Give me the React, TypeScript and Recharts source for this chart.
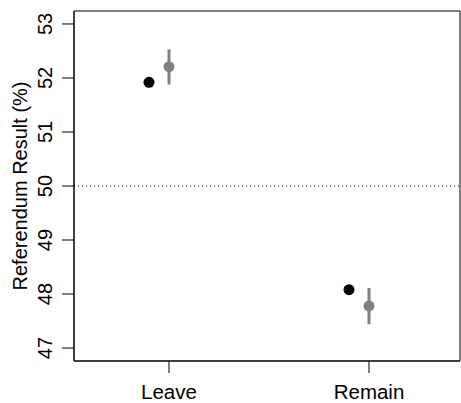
import React from 'react';
import {
  ComposedChart,
  Scatter,
  XAxis,
  YAxis,
  ErrorBar,
  ReferenceLine,
  ReferenceArea,
} from 'recharts';

const categories = ['Leave', 'Remain'];
const actual = [51.92, 48.08];
const predicted = [52.21, 47.78];
const predLow = [51.88, 47.44];
const predHigh = [52.53, 48.11];
const yTicks = [47, 48, 49, 50, 51, 52, 53];

const X_DOMAIN: [number, number] = [0.525, 2.455];
const Y_DOMAIN: [number, number] = [46.76, 53.24];
const ACTUAL_SHIFT = -0.1;
const GREY = '#808080';
const FONT = '"Liberation Sans", Arial, Helvetica, sans-serif';

const actualData = categories.map((c, i) => ({ x: i + 1 + ACTUAL_SHIFT, y: actual[i] }));
const predictedData = categories.map((c, i) => ({
  x: i + 1,
  y: predicted[i],
  err: [predicted[i] - predLow[i], predHigh[i] - predicted[i]],
}));

const YTick = (props: any) => {
  const { x, y, payload } = props;
  const tx = x - 8;
  return (
    <text
      x={tx}
      y={y}
      transform={`rotate(-90, ${tx}, ${y})`}
      textAnchor="middle"
      fontSize={20}
      fontFamily={FONT}
      fill="#000"
    >
      {payload.value}
    </text>
  );
};

const XTick = (props: any) => {
  const { x, y, payload } = props;
  return (
    <text x={x} y={y + 23.5} textAnchor="middle" fontSize={20.5} fontFamily={FONT} fill="#000">
      {categories[payload.value - 1]}
    </text>
  );
};

const YTitle = (props: any) => {
  const { viewBox } = props;
  const tx = viewBox.x + 27;
  const ty = viewBox.y + viewBox.height / 2;
  return (
    <text
      x={tx}
      y={ty}
      transform={`rotate(-90, ${tx}, ${ty})`}
      textAnchor="middle"
      fontSize={20}
      fontFamily={FONT}
      fill="#000"
    >
      Referendum Result (%)
    </text>
  );
};

export default function App() {
  return (
    <div style={{ position: 'absolute', left: 0, top: 0, width: 461, height: 403, background: '#fff' }}>
      <ComposedChart width={461} height={403} margin={{ top: 11, right: 1, left: 0, bottom: 0 }}>
        <XAxis
          type="number"
          dataKey="x"
          domain={X_DOMAIN}
          ticks={[1, 2]}
          tick={<XTick />}
          tickSize={12}
          height={42}
          axisLine={{ stroke: '#000' }}
          tickLine={{ stroke: '#000' }}
          allowDataOverflow
        />
        <YAxis
          type="number"
          dataKey="y"
          domain={Y_DOMAIN}
          ticks={yTicks}
          tick={<YTick />}
          tickSize={12}
          width={74}
          axisLine={{ stroke: '#000' }}
          tickLine={{ stroke: '#000' }}
          allowDataOverflow
          label={<YTitle />}
        />
        <ReferenceArea
          x1={X_DOMAIN[0]}
          x2={X_DOMAIN[1]}
          y1={Y_DOMAIN[0]}
          y2={Y_DOMAIN[1]}
          fill="none"
          fillOpacity={0}
          stroke="#000"
          strokeWidth={1}
          ifOverflow="visible"
        />
        <ReferenceLine y={50} stroke="#000" strokeDasharray="1 3" />
        <Scatter
          data={predictedData}
          isAnimationActive={false}
          shape={(p: any) => <circle cx={p.cx} cy={p.cy} r={5.5} fill={GREY} />}
        >
          <ErrorBar dataKey="err" direction="y" width={0} stroke={GREY} strokeWidth={3} isAnimationActive={false} />
        </Scatter>
        <Scatter
          data={actualData}
          isAnimationActive={false}
          shape={(p: any) => <circle cx={p.cx} cy={p.cy} r={5.5} fill="#000" />}
        />
      </ComposedChart>
    </div>
  );
}
